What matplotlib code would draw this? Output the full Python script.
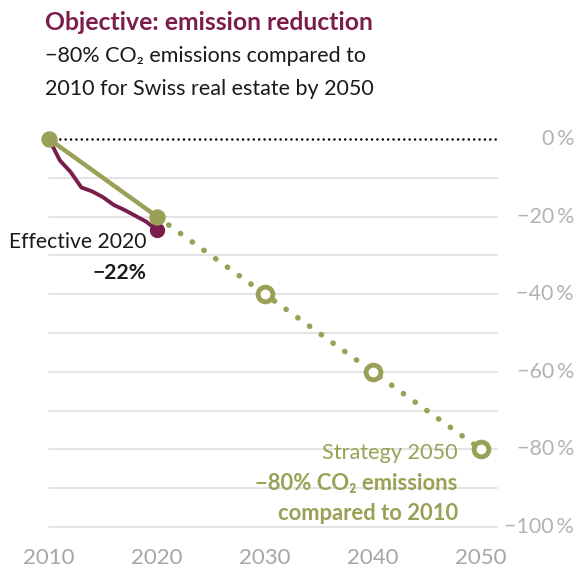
import numpy as np
import matplotlib.pyplot as plt
from matplotlib.transforms import blended_transform_factory

plt.rcParams['font.family'] = ['Lato', 'DejaVu Sans']

# data
eff_years = [2010, 2011, 2012, 2013, 2014, 2015, 2016, 2017, 2018, 2019, 2020]
eff_values = [0, -5.5, -8.5, -12.5, -13.5, -15, -17, -18.3, -19.8, -21.3, -23.5]
plan_years = [2010, 2020]
plan_values = [0, -20]
strat_years = [2020, 2030, 2040, 2050]
strat_values = [-20, -40, -60, -80]
xticks = [2010, 2020, 2030, 2040, 2050]
yticks = [0, -20, -40, -60, -80, -100]
ytick_labels = ['0\u2009%', '\u221220\u2009%', '\u221240\u2009%', '\u221260\u2009%',
                '\u221280\u2009%', '\u2212100\u2009%']

purple = '#7b1d4b'
green = '#9aa055'
gray = '#b3b3b3'

fig = plt.figure(figsize=(5.79, 5.69), dpi=100)
W, H = 579, 569
# axes from px x 40..500, y 125..540
ax = fig.add_axes([40 / W, 1 - 540 / H, 460 / W, 415 / H])
ax.set_xlim(2010 - 9 / 10.8, 2010 + 451 / 10.8)
ax.set_ylim(-(540 - 139) / 3.88, (139 - 125) / 3.88)
for s in ax.spines.values():
    s.set_visible(False)

# grid
for g in range(-10, -101, -10):
    ax.plot([2010, 2051.5], [g, g], color='#dcdcdc', lw=1.1, zorder=1)
ax.plot([2010, 2051.5], [0, 0], color='black', lw=1.8,
        dashes=(0.05, 2.1), dash_capstyle='round', zorder=2)

# strategy dotted
ax.plot(strat_years, strat_values, color=green, lw=4.0,
        dashes=(0.05, 2.55), dash_capstyle='round', zorder=3)
ax.plot(strat_years[1:], strat_values[1:], 'o', ms=10.6, mfc='white',
        mec=green, mew=3.5, zorder=5)

# planned solid
ax.plot(plan_years, plan_values, color=green, lw=3.2, solid_capstyle='round', zorder=4)

# effective
ax.plot(eff_years, eff_values, color=purple, lw=2.8, solid_joinstyle='round', zorder=5)
ax.plot(eff_years[-1], eff_values[-1], 'o', color=purple, ms=10, zorder=6)
ax.plot(plan_years, plan_values, 'o', color=green, ms=10.8, zorder=7)

# ticks
ax.set_xticks(xticks)
ax.set_xticklabels([str(x) for x in xticks])
ax.tick_params(axis='x', length=0, pad=6, labelsize=16, labelcolor='#a6a6a6')
ax.set_yticks([])
tr = blended_transform_factory(fig.transFigure, ax.transData)
for v, lab in zip(yticks, ytick_labels):
    ax.text(574 / W, v, lab, transform=tr, ha='right', va='center',
            fontsize=15.5, color=gray)

# annotations
ax.text(2019.0, -26.5, 'Effective 2020', ha='right', va='center',
        fontsize=15.2, color='#1a1a1a')
ax.text(2019.0, -34.5, '\u221222%', ha='right', va='center',
        fontsize=15.2, color='#1a1a1a', fontweight='bold')
ax.text(2047.85, -80.8, 'Strategy 2050', ha='right', va='center',
        fontsize=15.6, color=green)
ax.text(2047.85, -88.8, '\u221280% CO\u2082 emissions', ha='right', va='center',
        fontsize=15.8, color=green, fontweight='bold')
ax.text(2047.85, -96.6, 'compared to 2010', ha='right', va='center',
        fontsize=15.8, color=green, fontweight='bold')

# titles
fig.text(45 / W, 1 - 23 / H, 'Objective: emission reduction', ha='left', va='center',
         fontsize=17.8, fontweight='bold', color=purple)
fig.text(45 / W, 1 - 56 / H, '\u221280% CO\u2082 emissions compared to', ha='left',
         va='center', fontsize=15.5, color='#1a1a1a')
fig.text(45 / W, 1 - 89 / H, '2010 for Swiss real estate by 2050', ha='left',
         va='center', fontsize=15.5, color='#1a1a1a')

fig.savefig('out.png', dpi=100, facecolor='white')
